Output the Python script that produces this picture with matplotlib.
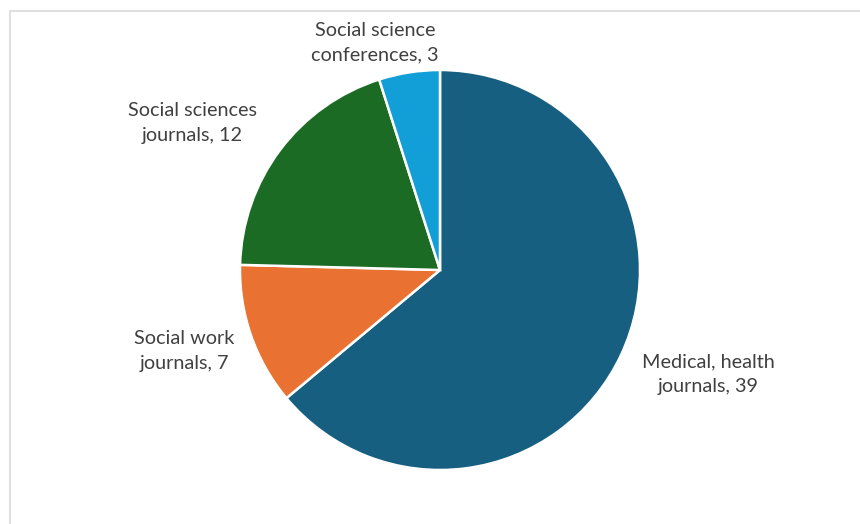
import matplotlib
matplotlib.use("Agg")
import matplotlib.pyplot as plt
from matplotlib.patches import Rectangle

# 出版先の内訳
categories = ["Medical, health\njournals", "Social work\njournals",
              "Social sciences\njournals", "Social science\nconferences"]
counts = [39, 7, 12, 3]
colors = ["#175F80", "#E97132", "#1B6B25", "#129FD8"]
# ラベル位置（データ座標）
label_pos = [(1.34, -0.52), (-1.28, -0.405), (-1.24, 0.735), (-0.325, 1.135)]

plt.rcParams['font.family'] = ['Lato', 'DejaVu Sans']

W, H = 860, 524
fig = plt.figure(figsize=(W / 100, H / 100), dpi=100)

# 外枠（右と下ははみ出す）
fig.patches.append(Rectangle((9.5 / W, -0.1), 1.2, (H - 11.5) / H + 0.1,
                             transform=fig.transFigure, fill=False,
                             edgecolor="#D9D9D9", linewidth=1.2))

# 円の中心 (440, 270) 半径 200px
cx, cy, r = 440, 270, 200
ax = fig.add_axes([(cx - r) / W, (H - cy - r) / H, 2 * r / W, 2 * r / H])
ax.pie(counts, colors=colors, startangle=90, counterclock=False, radius=1,
       wedgeprops=dict(edgecolor="white", linewidth=1.8))
ax.set_xlim(-1, 1)
ax.set_ylim(-1, 1)
ax.set_aspect("equal")

for cat, n, (x, y) in zip(categories, counts, label_pos):
    ax.text(x, y, f"{cat}, {n}", ha="center", va="center", fontsize=14.3,
            color="#404040", linespacing=1.55, clip_on=False)

fig.savefig("out.png", dpi=100)
